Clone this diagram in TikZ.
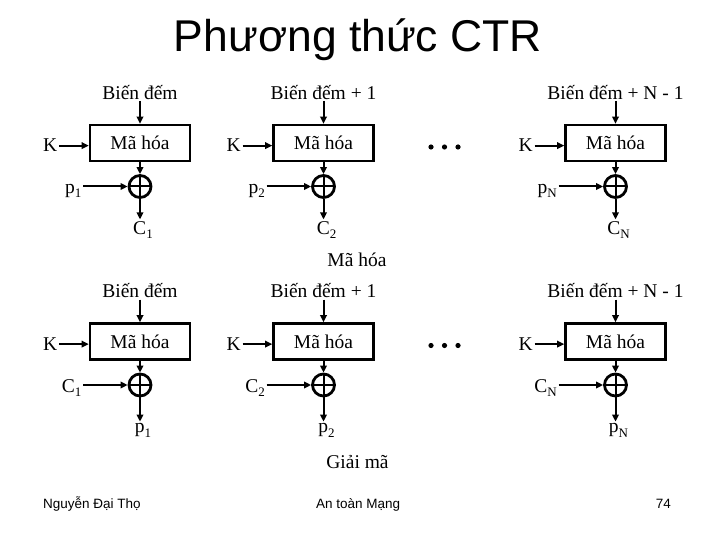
\documentclass[tikz,border=0pt]{standalone}
\usepackage{fontspec}
\setmainfont{Liberation Serif}
\newfontfamily\arialf{Liberation Sans}
\usetikzlibrary{arrows.meta}
\newcommand{\sbs}[1]{\raisebox{-4.5pt}{\fontsize{13}{13}\selectfont #1}}
\tikzset{
  blk/.style={draw, line width=2.6pt, minimum width=100pt, minimum height=36pt, inner sep=0pt, font=\fontsize{19.5}{22}\selectfont},
  xorn/.style={circle, draw, line width=2.8pt, minimum size=22pt, inner sep=0pt,
    path picture={\draw[line width=2pt] (path picture bounding box.north) -- (path picture bounding box.south)
      (path picture bounding box.west) -- (path picture bounding box.east);}},
  lbl/.style={inner sep=1.5pt, font=\fontsize{19.5}{22}\selectfont},
  conn/.style={line width=2pt, -{Triangle[length=7pt,width=6.5pt]}},
  foot/.style={inner sep=0pt, font=\arialf\fontsize{13.5}{16}\selectfont},
}
\begin{document}
\begin{tikzpicture}[x=1pt,y=-1pt]
\useasboundingbox (0,0) rectangle (720,540);
\node[font=\arialf\fontsize{44.5}{50}\selectfont, anchor=base, inner sep=0pt] (title) at (358,52) {Phương thức CTR};
\foreach \row/\oy/\inl/\outl in {e/0/p/C, d/198.5/C/p} {
  \foreach \bi/\X/\sub/\lab in {1/140/1/Biến đếm, 2/323.5/2/Biến đếm + 1, 3/615.5/N/Biến đếm + N - 1} {
    \node[blk] (m\row\bi) at (\X, 143+\oy) {Mã hóa};
    \node[lbl, anchor=south] (c\row\bi) at (\X, 101+\oy) {\lab};
    \draw[conn] (c\row\bi.south) -- (m\row\bi.north);
    \node[lbl, anchor=base east] (k\row\bi) at (\X-81, 152+\oy) {K};
    \draw[conn] (k\row\bi.east) -- (k\row\bi.east -| m\row\bi.west);
    \node[xorn] (x\row\bi) at (\X, 186.5+\oy) {};
    \draw[conn] (m\row\bi.south) -- (x\row\bi.north);
    \node[lbl, anchor=base east] (i\row\bi) at (\X-57, 193.5+\oy) {\inl\sbs{\sub}};
    \draw[conn] (i\row\bi.east |- x\row\bi.west) -- (x\row\bi.west);
    \node[lbl, anchor=base] (o\row\bi) at (\X+3, 234+\oy) {\outl\sbs{\sub}};
    \draw[conn] (x\row\bi.south) -- (x\row\bi.south |- o\row\bi.north);
  }
  \foreach \dx in {431,444.5,458} {
    \fill (\dx, 147+\oy) circle (2.6);
  }
}
\node[lbl] (capE) at (357,260) {Mã hóa};
\node[lbl] (capD) at (357.5,462) {Giải mã};
\node[foot, anchor=base west] (author) at (43,508) {Nguyễn Đại Thọ};
\node[foot, anchor=base west] (course) at (316,508) {An toàn Mạng};
\node[foot, anchor=base east] (page) at (671,508) {74};
\end{tikzpicture}
\end{document}
